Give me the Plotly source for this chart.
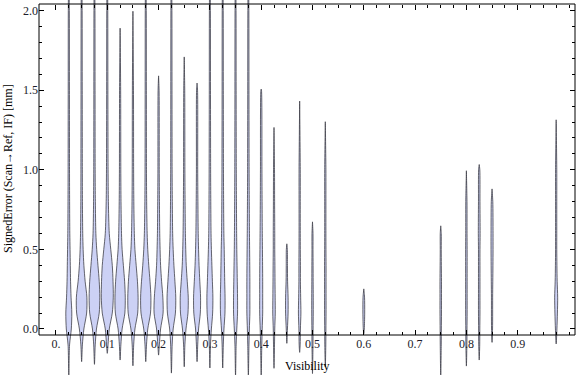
import plotly.graph_objects as go

# ---------------- data ----------------
VISIBILITY = [0.025, 0.05, 0.075, 0.1, 0.125, 0.15, 0.175, 0.2, 0.225, 0.25,
              0.275, 0.3, 0.325, 0.35, 0.375, 0.4, 0.425, 0.45, 0.475, 0.5,
              0.525, 0.6, 0.75, 0.8, 0.825, 0.85, 0.975]
ERR_MIN = [-0.30, -0.205, -0.222, -0.153, -0.195, -0.231, -0.205, -0.164, -0.277, -0.237,
           -0.205, -0.245, -0.245, -0.30, -0.30, -0.30, -0.247, -0.09, -0.147, -0.28,
           -0.237, -0.03, -0.30, -0.233, -0.195, -0.084, -0.094]
ERR_MAX = [2.4, 2.4, 2.4, 2.4, 1.89, 1.996, 2.4, 1.59, 2.4, 1.709,
           1.545, 2.4, 2.4, 2.4, 2.4, 1.507, 1.266, 0.535, 1.432, 0.673,
           1.302, 0.252, 0.648, 0.994, 1.033, 0.88, 1.314]
# error levels at which the density (violin width) is sampled
LEVELS = [-0.1, 0.0, 0.1, 0.2, 0.3, 0.4, 0.5, 0.6, 0.8, 1.0, 1.5, 2.0]
DENSITY = [
    [1.5, 5.0, 6.0, 4.5, 3.5, 3.0, 2.5, 2.0, 1.6, 1.4, 1.2, 1.0],
    [1.5, 4.5, 10.0, 10.5, 7.0, 4.5, 3.0, 2.2, 1.6, 1.4, 1.2, 1.0],
    [1.5, 4.0, 9.5, 10.7, 9.5, 7.0, 4.5, 2.8, 1.8, 1.4, 1.2, 1.0],
    [1.5, 4.0, 10.0, 12.0, 11.5, 10.0, 7.0, 4.0, 2.2, 1.6, 1.2, 1.0],
    [1.5, 4.0, 9.5, 10.3, 9.0, 6.5, 4.0, 2.8, 1.8, 1.4, 1.1, 0.8],
    [1.5, 4.0, 9.5, 10.3, 9.0, 6.5, 4.0, 2.8, 1.8, 1.4, 1.1, 0.8],
    [1.5, 4.0, 9.5, 10.3, 8.5, 6.0, 4.0, 2.8, 1.8, 1.4, 1.2, 1.0],
    [1.5, 4.0, 9.0, 8.5, 6.0, 4.0, 3.0, 2.3, 1.7, 1.3, 1.0, 0.8],
    [1.5, 3.5, 8.0, 8.7, 7.0, 5.0, 3.5, 2.5, 1.8, 1.4, 1.2, 1.0],
    [1.3, 3.5, 7.5, 8.0, 6.0, 4.0, 3.0, 2.3, 1.7, 1.3, 1.0, 0.8],
    [1.3, 3.0, 6.5, 7.0, 5.5, 4.0, 3.0, 2.3, 1.7, 1.3, 1.0, 0.8],
    [1.2, 3.0, 5.5, 6.0, 5.0, 4.0, 3.0, 2.3, 1.8, 1.5, 1.2, 1.0],
    [1.2, 2.5, 4.5, 4.7, 4.0, 3.5, 3.0, 2.3, 1.8, 1.5, 1.2, 1.0],
    [1.2, 2.5, 4.0, 4.0, 3.5, 3.0, 2.5, 2.2, 1.8, 1.5, 1.2, 1.0],
    [1.2, 2.0, 3.0, 3.0, 3.0, 2.8, 2.5, 2.2, 1.8, 1.5, 1.2, 1.0],
    [1.2, 2.0, 3.0, 3.0, 3.0, 2.8, 2.5, 2.2, 1.8, 1.5, 0.6, 0.6],
    [1.0, 1.5, 2.5, 2.3, 2.0, 1.8, 1.5, 1.5, 1.2, 1.0, 0.8, 0.8],
    [1.0, 1.2, 2.5, 2.5, 1.5, 1.2, 1.0, 0.8, 0.8, 0.8, 0.8, 0.8],
    [1.0, 1.5, 2.5, 2.0, 1.5, 1.5, 1.3, 1.2, 1.2, 1.2, 1.0, 0.8],
    [1.0, 1.2, 1.5, 1.5, 1.3, 1.2, 1.0, 1.0, 0.8, 0.8, 0.8, 0.8],
    [1.0, 1.2, 1.5, 1.5, 1.5, 1.5, 1.3, 1.2, 1.2, 1.2, 1.0, 0.8],
    [0.8, 1.0, 1.8, 1.5, 1.0, 0.8, 0.8, 0.8, 0.8, 0.8, 0.8, 0.8],
    [1.0, 1.2, 1.5, 1.5, 1.5, 1.2, 1.0, 1.0, 0.8, 0.8, 0.8, 0.8],
    [1.0, 1.2, 1.5, 1.5, 1.5, 1.5, 1.5, 1.3, 1.2, 1.0, 0.8, 0.8],
    [1.0, 1.2, 1.5, 1.5, 1.5, 1.5, 1.5, 1.8, 1.5, 1.2, 0.8, 0.8],
    [1.0, 1.0, 1.2, 1.2, 1.5, 1.8, 2.0, 2.0, 1.5, 1.0, 0.8, 0.8],
    [1.0, 1.5, 2.5, 3.0, 2.0, 1.5, 1.2, 1.2, 1.2, 1.2, 1.0, 0.8],
]

X_TICKS = [0.0, 0.1, 0.2, 0.3, 0.4, 0.5, 0.6, 0.7, 0.8, 0.9]
X_TICK_TEXT = ["0.", "0.1", "0.2", "0.3", "0.4", "0.5", "0.6", "0.7", "0.8", "0.9"]
X_MINOR = [i * 0.025 for i in range(41)]
Y_TICKS = [0.0, 0.5, 1.0, 1.5, 2.0]
Y_TICK_TEXT = ["0.0", "0.5", "1.0", "1.5", "2.0"]
Y_MINOR = [i * 0.1 for i in range(21)]

X_RANGE = [-0.0331, 1.0117]
Y_RANGE = [-0.289, 2.0666]

# ---------------- style ----------------
WIDTH_SCALE = 0.000975          # density unit -> half width in visibility units
FILL = "rgb(204,209,245)"
EDGE = "rgba(55,55,65,0.85)"
FONT = "Liberation Serif"
W, H = 576, 375
FRAME_BOTTOM = 40 / H
FRAME_TOP = 371 / H

fig = go.Figure()

for x, lo, hi, dens in zip(VISIBILITY, ERR_MIN, ERR_MAX, DENSITY):
    prof = [(0.0, lo)] + [(d, l) for l, d in zip(LEVELS, dens) if lo < l < hi] + [(0.0, hi)]
    xs = [x + d * WIDTH_SCALE for d, _ in prof] + [x - d * WIDTH_SCALE for d, _ in reversed(prof)]
    ys = [y for _, y in prof] + [y for _, y in reversed(prof)]
    fig.add_trace(go.Scatter(
        x=xs, y=ys, mode="lines", fill="toself", fillcolor=FILL,
        line=dict(color=EDGE, width=0.9, shape="spline", smoothing=0.8),
        hoverinfo="skip", showlegend=False,
    ))

# invisible trace to attach the top x axis
fig.add_trace(go.Scatter(x=[0.5], y=[-1], xaxis="x2", yaxis="y", mode="markers",
                         marker=dict(opacity=0), hoverinfo="skip", showlegend=False))

tickfont = dict(family=FONT, size=12, color="#1c1c2a")
minor_common = dict(ticks="inside", ticklen=3, tickwidth=1, tickcolor="black", showgrid=False)
fig.update_layout(
    width=W, height=H,
    margin=dict(l=39, r=1, t=0, b=0, autoexpand=False),
    plot_bgcolor="white", paper_bgcolor="white",
    showlegend=False,
    xaxis=dict(range=X_RANGE, anchor="free", position=FRAME_BOTTOM, domain=[0, 1],
               automargin=False,
               tickmode="array", tickvals=X_TICKS, ticktext=X_TICK_TEXT,
               ticks="inside", ticklen=5, tickwidth=1, tickcolor="black",
               tickfont=tickfont, showgrid=False, zeroline=False, showline=False,
               minor=dict(tickvals=X_MINOR, **minor_common)),
    xaxis2=dict(range=X_RANGE, overlaying="x", matches="x", side="top",
                anchor="free", position=FRAME_TOP, automargin=False,
                tickmode="array", tickvals=X_TICKS, showticklabels=False,
                ticks="inside", ticklen=5, tickwidth=1, tickcolor="black",
                showgrid=False, zeroline=False, showline=False,
                minor=dict(tickvals=X_MINOR, **minor_common)),
    yaxis=dict(range=Y_RANGE, domain=[0, 1], anchor="x", automargin=False,
               tickmode="array", tickvals=Y_TICKS, ticktext=Y_TICK_TEXT,
               ticks="inside", ticklen=5, tickwidth=1, tickcolor="black",
               mirror="ticks", tickfont=tickfont,
               showgrid=False, zeroline=False, showline=False,
               minor=dict(tickvals=Y_MINOR, **minor_common)),
    shapes=[dict(type="rect", xref="paper", yref="paper",
                 x0=0, x1=1, y0=FRAME_BOTTOM, y1=FRAME_TOP,
                 line=dict(color="black", width=1), fillcolor="rgba(0,0,0,0)",
                 layer="above")],
    annotations=[
        dict(text="Visibility", xref="paper", yref="paper", x=0.5, y=9 / H,
             xanchor="center", yanchor="middle", showarrow=False,
             font=dict(family=FONT, size=12, color="black")),
        dict(text="SignedError (Scan\u2192Ref, IF) [mm]", xref="paper", yref="paper",
             x=0, xshift=-31, y=(H - 169) / H, textangle=-90,
             xanchor="center", yanchor="middle", showarrow=False,
             font=dict(family=FONT, size=12, color="black")),
    ],
)

fig.write_html("out.html", config={"displayModeBar": False},
               post_script="document.body.style.margin='0';document.body.style.overflow='hidden';")
